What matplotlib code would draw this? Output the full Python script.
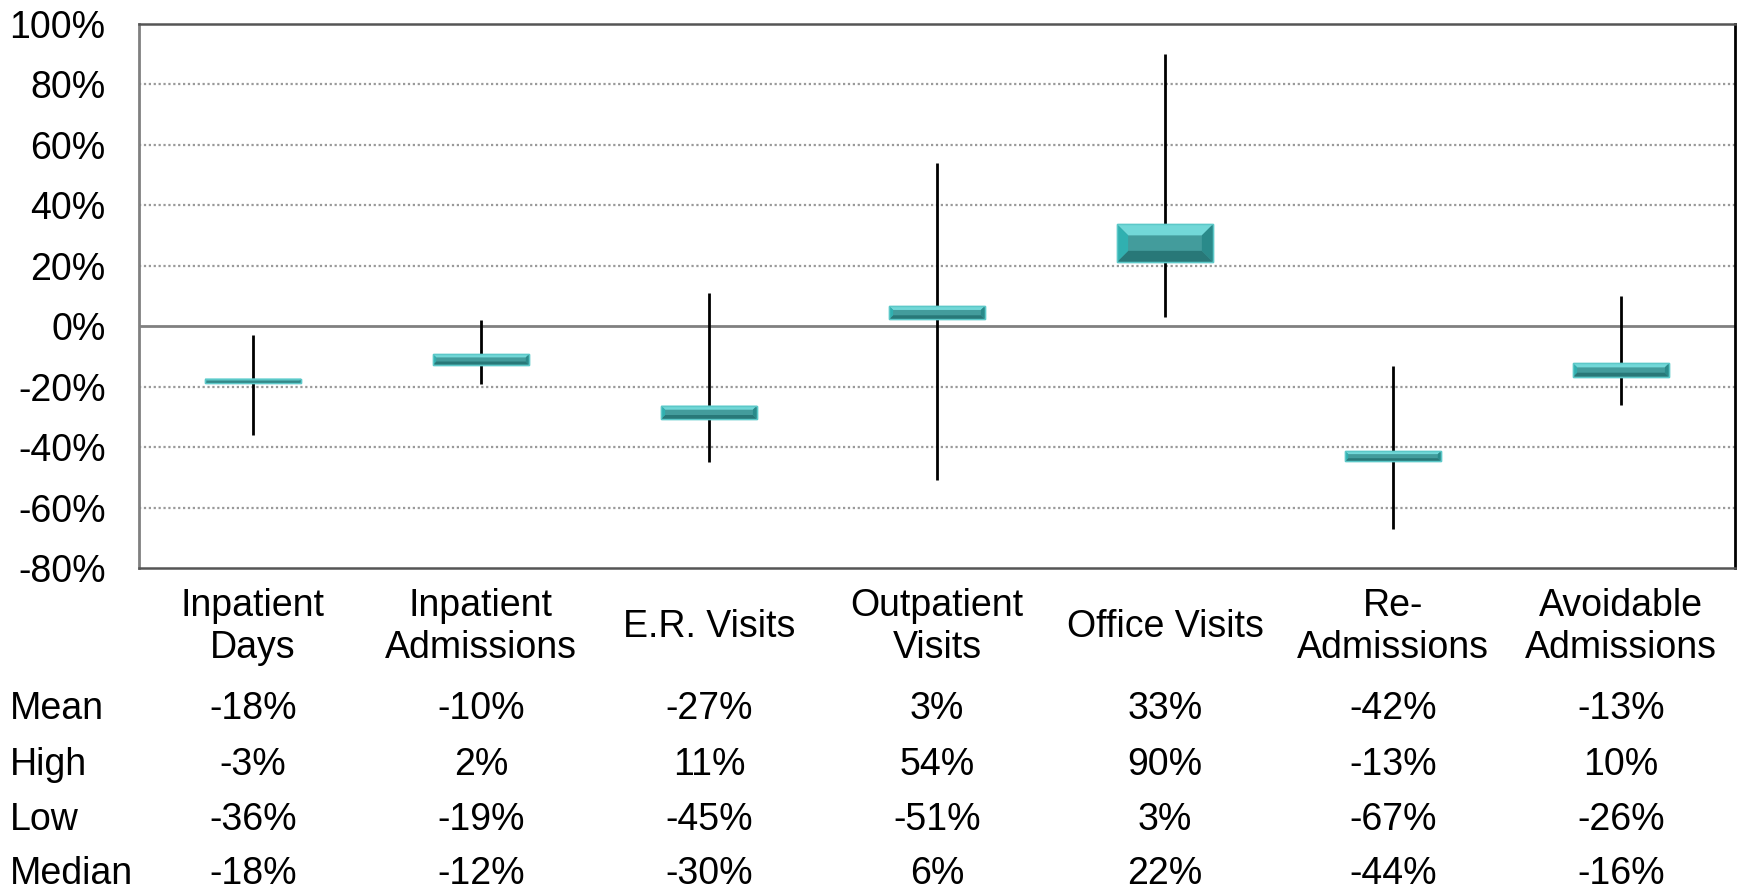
import matplotlib
matplotlib.use("Agg")
import matplotlib.pyplot as plt
from matplotlib.patches import Polygon, Rectangle
from matplotlib.transforms import blended_transform_factory

plt.rcParams['font.family'] = ['Liberation Sans', 'DejaVu Sans']

categories = ["Inpatient\nDays", "Inpatient\nAdmissions", "E.R. Visits", "Outpatient\nVisits",
              "Office Visits", "Re-\nAdmissions", "Avoidable\nAdmissions"]
mean = [-18, -10, -27, 3, 33, -42, -13]
high = [-3, 2, 11, 54, 90, -13, 10]
low = [-36, -19, -45, -51, 3, -67, -26]
median = [-18, -12, -30, 6, 22, -44, -16]
row_names = ["Mean", "High", "Low", "Median"]
yticks = list(range(-80, 101, 20))

FS = 27
W, H = 1743, 889
fig = plt.figure(figsize=(W / 100, H / 100), dpi=100)
L, R, T, B = 139, 1735, 24, 568
ax = fig.add_axes([L / W, 1 - B / H, (R - L) / W, (B - T) / H])
n = len(categories)
ax.set_xlim(0, n)
ax.set_ylim(-80, 100)
xs = [i + 0.5 for i in range(n)]

# grid
for v in yticks:
    if v == 0:
        ax.axhline(0, color='#808080', lw=2, zorder=1)
    elif -80 < v < 100:
        ax.axhline(v, color='#9a9a9a', lw=1.6, ls=(0, (1, 1.2)), zorder=1)

# whiskers
ax.vlines(xs, low, high, color='black', lw=2, zorder=2)

ppx = (R - L) / n          # pixels per x unit
ppy = (B - T) / 180.0      # pixels per y unit
bw = 0.42
pad = 0.7
for x, m, md in zip(xs, mean, median):
    y0 = min(m, md) - pad
    y1 = max(m, md) + pad
    x0, x1 = x - bw / 2, x + bw / 2
    hpx = (y1 - y0) * ppy
    b = min(11, hpx * 0.3)
    bx, by = b / ppx, b / ppy
    ax.add_patch(Rectangle((x0, y0), x1 - x0, y1 - y0, facecolor='#439c9c',
                           edgecolor='#5cc8c8', lw=1.0, zorder=3))
    ax.add_patch(Polygon([(x0, y1), (x1, y1), (x1 - bx, y1 - by), (x0 + bx, y1 - by)],
                         closed=True, facecolor='#72d8d8', edgecolor='none', zorder=4))
    ax.add_patch(Polygon([(x0, y0), (x1, y0), (x1 - bx, y0 + by), (x0 + bx, y0 + by)],
                         closed=True, facecolor='#287878', edgecolor='none', zorder=4))
    ax.add_patch(Polygon([(x0, y0), (x0, y1), (x0 + bx, y1 - by), (x0 + bx, y0 + by)],
                         closed=True, facecolor='#30b0b0', edgecolor='none', zorder=4))
    ax.add_patch(Polygon([(x1, y0), (x1, y1), (x1 - bx, y1 - by), (x1 - bx, y0 + by)],
                         closed=True, facecolor='#2a8a8a', edgecolor='none', zorder=4))
    ax.add_patch(Rectangle((x0, y0), x1 - x0, y1 - y0, facecolor='none',
                           edgecolor='#5cc8c8', lw=1.0, zorder=5))

ax.set_yticks(yticks)
ax.set_yticklabels([f"{v}%" for v in yticks], fontsize=FS)
ax.tick_params(axis='y', length=0, pad=24)
ax.set_xticks([])

for s in ['top', 'bottom']:
    ax.spines[s].set_color('#555555')
    ax.spines[s].set_linewidth(1.8)
ax.spines['left'].set_color('#808080')
ax.spines['left'].set_linewidth(2)
ax.spines['right'].set_color('black')
ax.spines['right'].set_linewidth(2)

tr = blended_transform_factory(ax.transData, fig.transFigure)
for x, c in zip(xs, categories):
    ax.text(x, 1 - 627 / H, c, transform=tr, ha='center', va='center', fontsize=FS,
            linespacing=1.2)

rows = [mean, high, low, median]
row_y = [709, 765, 820, 874]
for name, vals, yy in zip(row_names, rows, row_y):
    fig.text(10 / W, 1 - yy / H, name, ha='left', va='center', fontsize=FS)
    for x, v in zip(xs, vals):
        ax.text(x, 1 - yy / H, f"{v}%", transform=tr, ha='center', va='center', fontsize=FS)

fig.savefig("out.png", dpi=100)
